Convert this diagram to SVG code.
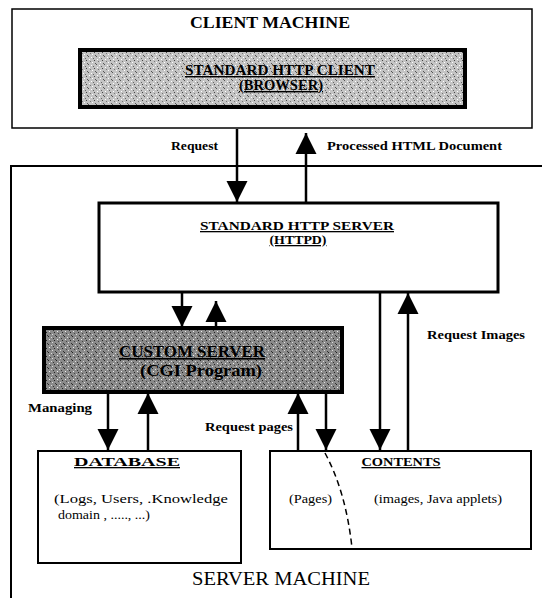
<svg xmlns="http://www.w3.org/2000/svg" width="542" height="598" viewBox="0 0 542 598">
<style>
  text { font-family: "Liberation Serif", "Times New Roman", serif; fill: #000; }
  .b { font-weight: bold; }
  .u { text-decoration: underline; }
  .lbl { font-size: 12px; font-weight: bold; }
  .box { fill: #fff; stroke: #000; }
  .ln { stroke: #000; stroke-width: 2.5; fill: none; }
</style>
<defs>
  <pattern id="noiseLight" width="8" height="8" patternUnits="userSpaceOnUse">
    <rect width="8" height="8" fill="#c4c4c4"/>
    <rect x="0" y="0" width="1" height="1" fill="#555"/>
    <rect x="3" y="1" width="1" height="1" fill="#fff"/>
    <rect x="5" y="2" width="1" height="1" fill="#666"/>
    <rect x="1" y="3" width="1" height="1" fill="#fff"/>
    <rect x="6" y="4" width="1" height="1" fill="#444"/>
    <rect x="2" y="5" width="1" height="1" fill="#777"/>
    <rect x="4" y="6" width="1" height="1" fill="#fff"/>
    <rect x="7" y="7" width="1" height="1" fill="#555"/>
  </pattern>
  <pattern id="noiseDark" width="8" height="8" patternUnits="userSpaceOnUse">
    <rect width="8" height="8" fill="#8a8a8a"/>
    <rect x="0" y="0" width="1" height="1" fill="#222"/>
    <rect x="3" y="1" width="1" height="1" fill="#ddd"/>
    <rect x="5" y="2" width="1" height="1" fill="#333"/>
    <rect x="1" y="3" width="1" height="1" fill="#eee"/>
    <rect x="6" y="4" width="1" height="1" fill="#222"/>
    <rect x="2" y="5" width="1" height="1" fill="#444"/>
    <rect x="4" y="6" width="1" height="1" fill="#ddd"/>
    <rect x="7" y="7" width="1" height="1" fill="#333"/>
  </pattern>
  <marker id="ah" viewBox="0 0 10 10" refX="10" refY="5" markerWidth="8.5" markerHeight="8.5" markerUnits="strokeWidth" orient="auto">
    <path d="M0,0 L10,5 L0,10 Z" fill="#000"/>
  </marker>
</defs>

<g id="client-machine">
  <rect class="box" x="12" y="9" width="520" height="119" stroke-width="1.5"/>
  <text x="270" y="28" font-size="16" class="b" text-anchor="middle" textLength="160" lengthAdjust="spacingAndGlyphs">CLIENT MACHINE</text>
</g>

<g id="browser">
  <rect x="80" y="50" width="385" height="57" fill="url(#noiseLight)" stroke="#000" stroke-width="4"/>
  <text x="280" y="75" font-size="14" class="b u" text-anchor="middle" textLength="190" lengthAdjust="spacingAndGlyphs">STANDARD  HTTP CLIENT</text>
  <text x="281" y="90" font-size="14" class="b u" text-anchor="middle" textLength="84" lengthAdjust="spacingAndGlyphs">(BROWSER)</text>
</g>

<g id="server-machine">
  <path d="M11 598 V166 H542" fill="none" stroke="#000" stroke-width="2"/>
  <text x="281" y="585" font-size="18" text-anchor="middle" textLength="178" lengthAdjust="spacingAndGlyphs">SERVER MACHINE</text>
</g>

<g id="http-server">
  <rect class="box" x="99" y="203" width="399" height="89" stroke-width="3"/>
  <text x="297" y="230" font-size="13" class="b u" text-anchor="middle" textLength="194" lengthAdjust="spacingAndGlyphs">STANDARD   HTTP SERVER</text>
  <text x="298" y="244" font-size="13" class="b u" text-anchor="middle" textLength="57" lengthAdjust="spacingAndGlyphs">(HTTPD)</text>
</g>

<g id="cgi">
  <rect x="44" y="328" width="298" height="64" fill="url(#noiseDark)" stroke="#000" stroke-width="4"/>
  <text x="192" y="357" font-size="16" class="b u" text-anchor="middle" textLength="146" lengthAdjust="spacingAndGlyphs">CUSTOM SERVER</text>
  <text x="201" y="376" font-size="16" class="b" text-anchor="middle" textLength="122" lengthAdjust="spacingAndGlyphs">(CGI Program)</text>
</g>

<g id="database">
  <rect class="box" x="38" y="451" width="203" height="112" stroke-width="2"/>
  <text x="127" y="466" font-size="13" class="b u" text-anchor="middle" textLength="106" lengthAdjust="spacingAndGlyphs">DATABASE</text>
  <text x="54" y="503" font-size="13" textLength="174" lengthAdjust="spacingAndGlyphs">(Logs, Users, .Knowledge</text>
  <text x="58" y="519" font-size="13" textLength="92" lengthAdjust="spacingAndGlyphs">domain , ....., ...)</text>
</g>

<g id="contents">
  <rect class="box" x="270" y="451" width="261" height="98" stroke-width="2"/>
  <text x="401" y="466" font-size="13" class="b u" text-anchor="middle" textLength="79" lengthAdjust="spacingAndGlyphs">CONTENTS</text>
  <text x="289" y="503" font-size="13" textLength="43" lengthAdjust="spacingAndGlyphs">(Pages)</text>
  <text x="374" y="503" font-size="13" textLength="128" lengthAdjust="spacingAndGlyphs">(images, Java applets)</text>
  <path d="M325 453 Q346 492 352 548" fill="none" stroke="#000" stroke-width="1.5" stroke-dasharray="6,4"/>
</g>

<g id="connectors">
  <line class="ln" x1="237" y1="129" x2="237" y2="202" marker-end="url(#ah)"/>
  <line class="ln" x1="306" y1="203" x2="306" y2="133" marker-end="url(#ah)"/>
  <line class="ln" x1="182" y1="293" x2="182" y2="327" marker-end="url(#ah)"/>
  <line class="ln" x1="216" y1="328" x2="216" y2="301" marker-end="url(#ah)"/>
  <line class="ln" x1="108" y1="393" x2="108" y2="450" marker-end="url(#ah)"/>
  <line class="ln" x1="148" y1="451" x2="148" y2="393" marker-end="url(#ah)"/>
  <line class="ln" x1="298" y1="451" x2="298" y2="393" marker-end="url(#ah)"/>
  <line class="ln" x1="326" y1="393" x2="326" y2="450" marker-end="url(#ah)"/>
  <line class="ln" x1="380" y1="293" x2="380" y2="450" marker-end="url(#ah)"/>
  <line class="ln" x1="408" y1="451" x2="408" y2="293" marker-end="url(#ah)"/>
  <text x="171" y="150" class="lbl" textLength="47" lengthAdjust="spacingAndGlyphs">Request</text>
  <text x="327" y="150" class="lbl" textLength="175" lengthAdjust="spacingAndGlyphs">Processed HTML Document</text>
  <text x="28" y="412" class="lbl" textLength="64" lengthAdjust="spacingAndGlyphs">Managing</text>
  <text x="205" y="431" class="lbl" textLength="88" lengthAdjust="spacingAndGlyphs">Request pages</text>
  <text x="427" y="339" class="lbl" textLength="98" lengthAdjust="spacingAndGlyphs">Request Images</text>
</g>
</svg>
